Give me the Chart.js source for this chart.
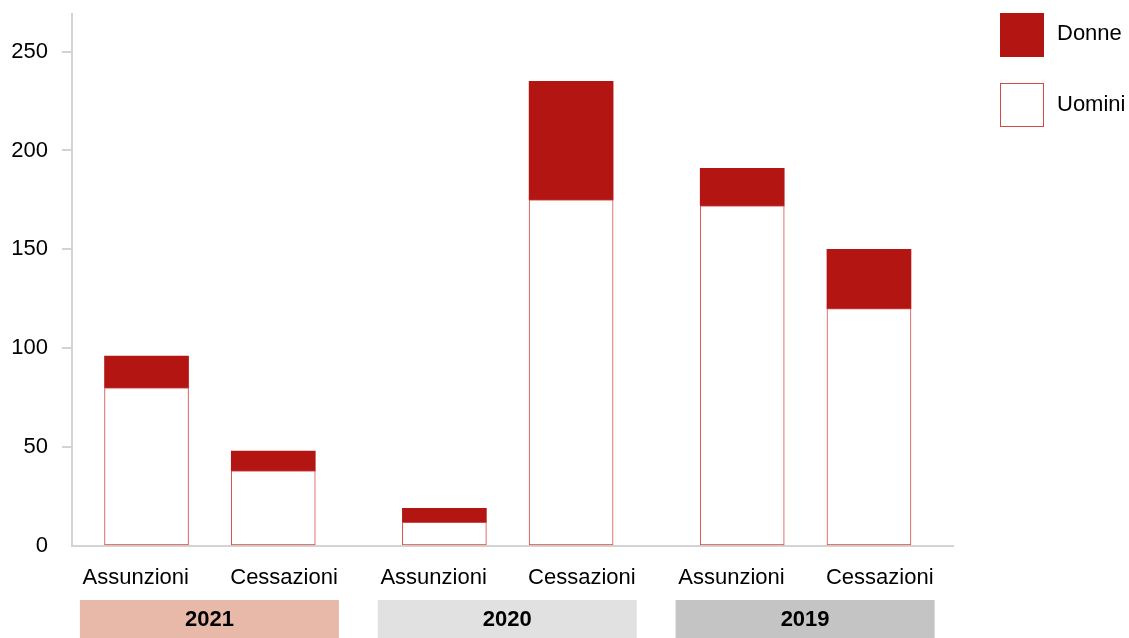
<!DOCTYPE html>
<html>
<head>
<meta charset="utf-8">
<style>
  html, body { margin: 0; padding: 0; background: #ffffff; }
  #wrap { position: relative; width: 1129px; height: 638px; }
</style>
<script src="https://cdn.jsdelivr.net/npm/chart.js@4.4.1/dist/chart.umd.min.js"></script>
</head>
<body>
<div id="wrap"><canvas id="chart" width="1129" height="638"></canvas></div>
<script>
// Hires (Assunzioni) and terminations (Cessazioni) per year, split by gender
const years = ['2021', '2020', '2019'];
const categories = ['Assunzioni', 'Cessazioni'];
const uomini = [80, 38, 12, 175, 172, 120];
const donne = [16, 10, 7, 60, 19, 30];
const yTicks = [0, 50, 100, 150, 200, 250];

const yearColors = ['#e8b9a8', '#e1e1e1', '#c4c4c4'];
const RED = '#b31512';
const RED_LINE = '#d24a46';
const AXIS = '#d3d3d3';
const FONT = '"Liberation Sans", Arial, Helvetica, sans-serif';

// Slot position on the x axis: two bars per year, wider gap between years.
// Category labels sit a little wider apart than the bars, centred on the year band.
const GROUP_STEP = 2.35;
const LABEL_SPREAD = 0.585;
const positions = [];
const labelPositions = [];
const labels = [];
years.forEach((y, g) => {
  const centre = g * GROUP_STEP + 0.5;
  categories.forEach((c, i) => {
    positions.push(g * GROUP_STEP + i);
    labelPositions.push(centre + (i === 0 ? -LABEL_SPREAD : LABEL_SPREAD));
    labels.push(c);
  });
});

const toPoints = arr => arr.map((v, k) => ({ x: positions[k], y: v }));

// Year bands under the category labels and the legend on the right
const extras = {
  id: 'extras',
  afterDraw(chart) {
    const { ctx, scales: { x } } = chart;
    ctx.save();
    years.forEach((yr, g) => {
      const centre = x.getPixelForValue(g * GROUP_STEP + 0.5);
      const left = centre - 130;
      const right = centre + 129;
      ctx.fillStyle = yearColors[g];
      ctx.fillRect(left, 600, right - left, 38);
      ctx.fillStyle = '#000';
      ctx.font = 'bold 22px ' + FONT;
      ctx.textAlign = 'center';
      ctx.textBaseline = 'middle';
      ctx.fillText(yr, (left + right) / 2, 620);
    });

    // legend
    ctx.fillStyle = RED;
    ctx.fillRect(1000, 13, 44, 44);
    ctx.fillStyle = '#fff';
    ctx.fillRect(1000, 83, 44, 44);
    ctx.strokeStyle = RED_LINE;
    ctx.lineWidth = 1;
    ctx.strokeRect(1000.5, 83.5, 43, 43);
    ctx.fillStyle = '#000';
    ctx.font = '22px ' + FONT;
    ctx.textAlign = 'left';
    ctx.textBaseline = 'middle';
    ctx.fillText('Donne', 1057, 34);
    ctx.fillText('Uomini', 1057, 105);
    ctx.restore();
  }
};

new Chart(document.getElementById('chart'), {
  type: 'bar',
  data: {
    datasets: [
      {
        label: 'Uomini',
        data: toPoints(uomini),
        backgroundColor: '#ffffff',
        borderColor: RED_LINE,
        borderWidth: 1,
        borderSkipped: false
      },
      {
        label: 'Donne',
        data: toPoints(donne),
        backgroundColor: RED,
        borderWidth: 0
      }
    ]
  },
  options: {
    responsive: false,
    animation: false,
    barThickness: 84,
    layout: { padding: { left: 0, right: 176, top: 14, bottom: 0 } },
    plugins: {
      legend: { display: false },
      tooltip: { enabled: false }
    },
    scales: {
      x: {
        type: 'linear',
        stacked: true,
        offset: false,
        min: -0.588,
        max: 6.363,
        grid: { display: false, drawTicks: false },
        border: { display: true, color: AXIS, width: 2 },
        afterBuildTicks(scale) {
          scale.ticks = labelPositions.map(v => ({ value: v }));
        },
        afterFit(scale) {
          scale.height = 92;
          scale.paddingLeft = 0;
          scale.paddingRight = 0;
        },
        ticks: {
          autoSkip: false,
          maxRotation: 0,
          padding: 19,
          color: '#000',
          font: { family: FONT, size: 22 },
          callback: (v, i) => labels[i]
        }
      },
      y: {
        stacked: true,
        min: 0,
        max: 269,
        afterBuildTicks(scale) {
          scale.ticks = yTicks.map(v => ({ value: v }));
        },
        afterFit(scale) {
          scale.width = 72;
          scale.paddingTop = 0;
          scale.paddingBottom = 0;
        },
        grid: {
          drawOnChartArea: false,
          drawTicks: true,
          tickLength: 10,
          color: ctx => (ctx.tick && ctx.tick.value === 0 ? 'rgba(0,0,0,0)' : AXIS),
          lineWidth: 2
        },
        border: { display: true, color: AXIS, width: 2 },
        ticks: {
          padding: 14,
          color: '#000',
          font: { family: FONT, size: 22 }
        }
      }
    }
  },
  plugins: [extras]
});
</script>
</body>
</html>
